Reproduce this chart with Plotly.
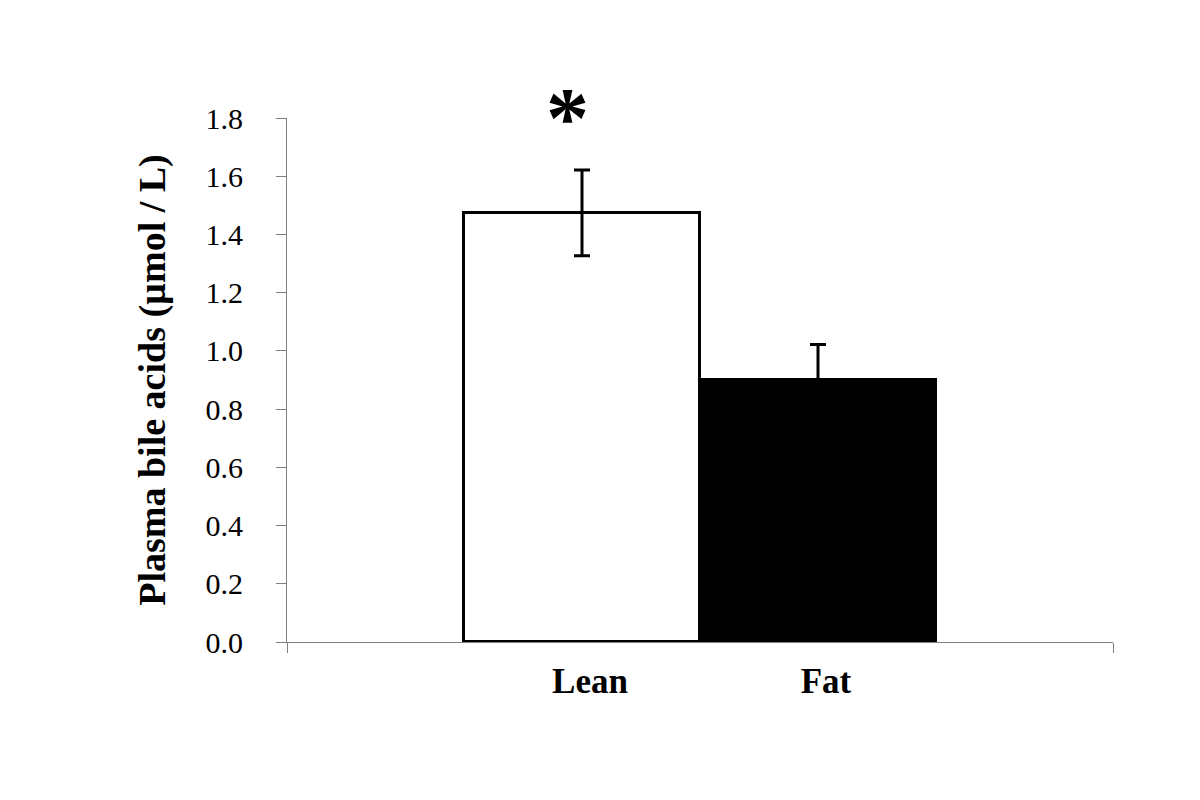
import plotly.graph_objects as go

categories = ["Lean", "Fat"]
values = [1.474, 0.900]
err_plus = [0.147, 0.122]
err_minus = [0.147, 0.0]
y_ticks = [0.0, 0.2, 0.4, 0.6, 0.8, 1.0, 1.2, 1.4, 1.6, 1.8]
y_ticktext = [f"{v:.1f}" for v in y_ticks]
fills = ["white", "black"]

FONT = "Liberation Serif, Times New Roman, serif"
x_pos = [0, 1]

fig = go.Figure()
fig.add_trace(go.Bar(
    x=x_pos, y=values, width=1.0,
    marker=dict(color=fills, line=dict(color="black", width=3)),
    error_y=dict(type="data", symmetric=False, array=err_plus, arrayminus=err_minus,
                 color="black", thickness=3, width=8),
    showlegend=False,
))

fig.add_annotation(x=-0.06, y=1.0, text="<b>*</b>", showarrow=False,
                   font=dict(family=FONT, size=86, color="black"),
                   xref="x", yref="paper", yanchor="middle", xanchor="center")

fig.update_layout(
    width=1200, height=800,
    margin=dict(l=279, r=95, t=110, b=166),
    paper_bgcolor="white", plot_bgcolor="white",
    font=dict(family=FONT, color="black"),
    bargap=0,
)
fig.update_xaxes(
    range=[-1.25, 2.25], tickmode="array", tickvals=x_pos, ticktext=[f"<b>{c}</b>" for c in categories],
    ticks="", showline=True, linecolor="#808080", linewidth=1, showgrid=False, zeroline=False,
    tickfont=dict(family=FONT, size=35, color="black"),
    ticklabelshift=8, ticklabelstandoff=8,
    minor=dict(tickmode="array", tickvals=[-1.25, 2.25], ticks="outside", ticklen=10,
               tickcolor="#808080", tickwidth=1, showgrid=False),
)
fig.update_yaxes(
    range=[0, 1.8], tickmode="array", tickvals=y_ticks, ticktext=y_ticktext,
    ticks="outside", ticklen=10, tickcolor="#808080", tickwidth=1,
    showline=True, linecolor="#808080", linewidth=1, showgrid=False, zeroline=False,
    tickfont=dict(family=FONT, size=30, color="black"),
    ticklabelstandoff=27,
    title=dict(text="<b>Plasma bile acids (µmol / L)</b>", font=dict(family=FONT, size=38, color="black"),
               standoff=28),
)

fig.write_html("out.html")
